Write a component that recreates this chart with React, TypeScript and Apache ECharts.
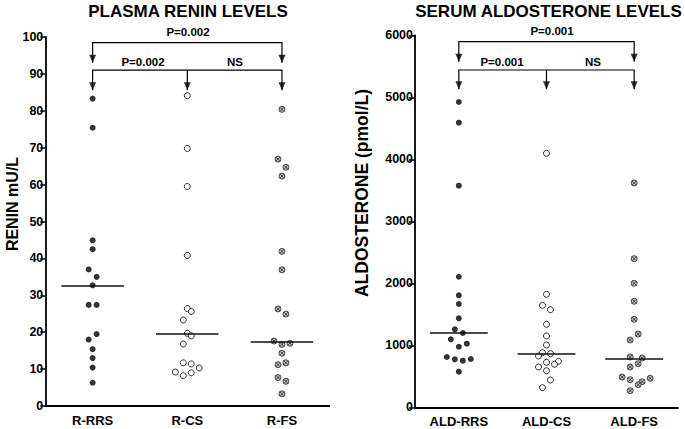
import React, { useEffect, useRef } from "react";
import * as echarts from "echarts";

// ---- Data ----
const reninCategories = ["R-RRS", "R-CS", "R-FS"];
const aldoCategories = ["ALD-RRS", "ALD-CS", "ALD-FS"];

const reninRRS = [83.3, 75.4, 44.9, 42.5, 37.0, 35.0, 32.7, 27.4, 27.4, 19.5, 18.0, 15.4, 13.0, 10.4, 6.3];
const reninRRSSlots = [0, 0, 0, 0, -1, 1, 0, -1, 1, 1, -1, 0, 0, 0, 0];
const reninCS = [84.1, 69.8, 59.5, 40.8, 26.4, 25.6, 23.3, 19.7, 19.0, 16.8, 11.7, 11.4, 10.3, 9.2, 8.2, 9.0];
const reninCSSlots = [0, 0, 0, 0, 0, 1, -1, 0, 1, -1, -1, 1, 3, -3, -1, 1];
const reninFS = [80.4, 66.9, 64.7, 62.3, 41.9, 36.9, 26.3, 24.9, 17.6, 16.7, 17.0, 14.3, 11.2, 11.7, 7.7, 6.7, 3.3];
const reninFSSlots = [0, -1, 1, 0, 0, 0, -1, 1, -2, 0, 2, 0, -1, 1, -1, 1, 0];
const reninCentral = [32.7, 19.7, 17.5];

const aldoRRS = [4924, 4590, 3574, 2106, 1806, 1666, 1435, 1258, 1198, 1097, 1026, 977, 811, 774, 752, 779, 574];
const aldoRRSSlots = [0, 0, 0, 0, 0, 0, 0, -1, 1, -2, 2, 0, -3, -1, 1, 3, 0];
const aldoCS = [4097, 1823, 1645, 1574, 1339, 1150, 1005, 881, 865, 828, 726, 742, 694, 650, 590, 440, 316];
const aldoCSSlots = [0, 0, -1, 1, 0, 0, 0, -1, 1, -2, 0, 3, 2, -2, 0, 1, -1];
const aldoFS = [3618, 2397, 2000, 1710, 1419, 1182, 1085, 811, 795, 703, 650, 489, 445, 468, 413, 365, 268];
const aldoFSSlots = [0, 0, 0, 0, 0, 1, -1, -1, 2, 1, -1, -3, -1, 4, 2, 1, -1];
const aldoCentral = [1198, 865, 790];

const reninTitle = "PLASMA RENIN LEVELS";
const aldoTitle = "SERUM ALDOSTERONE LEVELS";
const reninAxisName = "RENIN mU/L";
const aldoAxisName = "ALDOSTERONE (pmol/L)";
const reninP = ["P=0.002", "P=0.002", "NS"];
const aldoP = ["P=0.001", "P=0.001", "NS"];

const FONT = '"Liberation Sans", Arial, Helvetica, sans-serif';

const crossSymbol =
  "path://M0,5A5,5 0 1,1 10,5A5,5 0 1,1 0,5Z M1.6,1.6L8.4,8.4 M8.4,1.6L1.6,8.4";

function pts(cat: number, vals: number[], slots: number[], dx: number) {
  return vals.map((v, i) => [cat + slots[i] * dx, v]);
}

export default function App() {
  const ref = useRef<HTMLDivElement>(null);
  useEffect(() => {
    if (!ref.current) return;
    const chart = echarts.init(ref.current, undefined, { renderer: "svg" });
    const dxL = 0.042;
    const dxR = 0.0456;
    const half = 0.33;

    const dotStyles = [
      { symbol: "circle", itemStyle: { color: "#000", borderColor: "#000", borderWidth: 0 } },
      { symbol: "circle", itemStyle: { color: "#fff", borderColor: "#000", borderWidth: 1 } },
      { symbol: crossSymbol, itemStyle: { color: "#b4b4b4", borderColor: "#222", borderWidth: 1 } },
    ];

    const catAxis = (gridIndex: number, data: string[]) => ({
      type: "category",
      gridIndex,
      data,
      boundaryGap: true,
      axisLine: { onZero: false, lineStyle: { color: "#000", width: 1.8 } },
      axisTick: { show: false },
      axisLabel: { color: "#000", fontFamily: FONT, fontWeight: "bold", fontSize: 13, margin: 8 },
    });
    const hiddenX = (gridIndex: number) => ({
      type: "value",
      gridIndex,
      min: -0.5,
      max: 2.5,
      show: false,
    });
    const yAx = (gridIndex: number, max: number, interval: number, tickLen: number) => ({
      type: "value",
      gridIndex,
      min: 0,
      max,
      interval,
      splitLine: { show: false },
      axisLine: { show: true, onZero: false, lineStyle: { color: "#000", width: 1.8 } },
      axisTick: { show: true, length: tickLen, lineStyle: { color: "#000", width: 1.5 } },
      axisLabel: {
        color: "#000",
        fontFamily: FONT,
        fontWeight: "bold",
        fontSize: 12.5,
        margin: 2,
        formatter: (v: number) => String(v),
      },
    });

    const scatter = (xi: number, yi: number, data: number[][], style: any) => ({
      type: "scatter",
      xAxisIndex: xi,
      yAxisIndex: yi,
      symbol: style.symbol,
      symbolSize: 6,
      itemStyle: style.itemStyle,
      data,
      z: 3,
    });

    const centralLines = (xi: number, yi: number, vals: number[]) => ({
      type: "lines",
      coordinateSystem: "cartesian2d",
      xAxisIndex: xi,
      yAxisIndex: yi,
      lineStyle: { color: "#111", width: 1.5, opacity: 1 },
      data: vals.map((v, i) => ({ coords: [[i - half, v], [i + half, v]] })),
      z: 4,
    });

    const brackets = (xi: number, yi: number, top: number, topTip: number, low: number, lowTip: number) => [
      {
        type: "lines",
        coordinateSystem: "cartesian2d",
        polyline: true,
        xAxisIndex: xi,
        yAxisIndex: yi,
        lineStyle: { color: "#000", width: 1.2, opacity: 1 },
        data: [
          { coords: [[0, topTip], [0, top], [2, top], [2, topTip]] },
          { coords: [[0, lowTip], [0, low], [2, low], [2, lowTip]] },
          { coords: [[1, low], [1, lowTip]] },
        ],
        z: 5,
      },
      {
        type: "scatter",
        xAxisIndex: xi,
        yAxisIndex: yi,
        symbol: "triangle",
        symbolRotate: 180,
        symbolSize: [7, 8],
        symbolOffset: [0, -4],
        itemStyle: { color: "#000" },
        data: [[0, topTip], [2, topTip], [0, lowTip], [1, lowTip], [2, lowTip]],
        z: 6,
      },
    ];

    const txt = (text: string, x: number, y: number, size: number, rotation = 0) => ({
      type: "text",
      x,
      y,
      rotation,
      style: {
        text,
        fill: "#000",
        fontFamily: FONT,
        fontWeight: "bold",
        fontSize: size,
        align: "center",
        verticalAlign: "middle",
      },
    });

    chart.setOption({
      animation: false,
      backgroundColor: "#fff",
      grid: [
        { left: 45.3, top: 37, width: 284, height: 369 },
        { left: 415, top: 35.3, width: 263, height: 372 },
      ],
      xAxis: [catAxis(0, reninCategories), hiddenX(0), catAxis(1, aldoCategories), hiddenX(1)],
      yAxis: [yAx(0, 100, 10, 5), yAx(1, 6000, 1000, 6)],
      series: [
        scatter(1, 0, pts(0, reninRRS, reninRRSSlots, dxL), dotStyles[0]),
        scatter(1, 0, pts(1, reninCS, reninCSSlots, dxL), dotStyles[1]),
        scatter(1, 0, pts(2, reninFS, reninFSSlots, dxL), dotStyles[2]),
        centralLines(1, 0, reninCentral),
        ...brackets(1, 0, 98.5, 93, 91, 85.6),
        scatter(3, 1, pts(0, aldoRRS, aldoRRSSlots, dxR), dotStyles[0]),
        scatter(3, 1, pts(1, aldoCS, aldoCSSlots, dxR), dotStyles[1]),
        scatter(3, 1, pts(2, aldoFS, aldoFSSlots, dxR), dotStyles[2]),
        centralLines(3, 1, aldoCentral),
        ...brackets(3, 1, 5897, 5574, 5440, 5129),
      ],
      graphic: [
        txt(reninTitle, 188, 11, 17),
        txt(aldoTitle, 548.5, 11, 17),
        txt(reninAxisName, 12, 204, 16, Math.PI / 2),
        txt(aldoAxisName, 362, 193, 17.5, Math.PI / 2),
        txt(reninP[0], 188, 32, 11.5),
        txt(reninP[1], 143, 62, 11.5),
        txt(reninP[2], 235, 62, 11.5),
        txt(aldoP[0], 552, 31, 11.5),
        txt(aldoP[1], 502, 62, 11.5),
        txt(aldoP[2], 593, 62, 11.5),
      ],
    });
    return () => chart.dispose();
  }, []);
  return (
    <div
      ref={ref}
      style={{ position: "fixed", left: 0, top: 0, width: 685, height: 429, background: "#fff" }}
    />
  );
}
